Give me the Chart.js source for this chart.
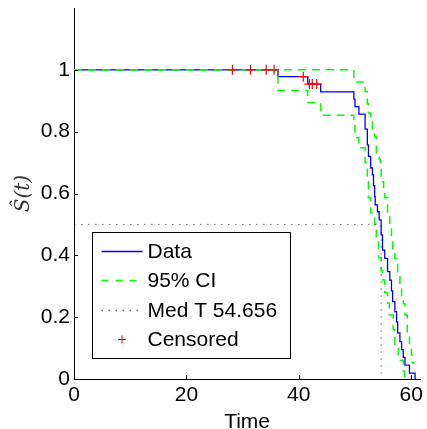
<!DOCTYPE html>
<html>
<head>
<meta charset="utf-8">
<script src="https://cdn.jsdelivr.net/npm/chart.js@4"></script>
<style>
  body { margin: 0; background: #fff; }
  #wrap { width: 427px; height: 429px; }
</style>
</head>
<body>
<div id="wrap"><canvas id="km" width="427" height="429"></canvas></div>
<script>
// Kaplan-Meier estimate (step points: time, survival after that time)
const survTime = [0, 36.3, 41.6, 43.9, 49.8, 50.0, 50.7, 51.8, 52.2, 52.4, 52.8, 53.1, 53.3, 53.5, 53.6, 54.0, 54.3, 54.656, 54.9, 55.3, 55.8, 56.2, 56.5, 56.7, 57.1, 57.4, 57.6, 58.0, 58.3, 58.6, 58.9, 59.7, 60.7];
const survProb = [1, 0.978, 0.954, 0.929, 0.905, 0.881, 0.857, 0.808, 0.757, 0.720, 0.683, 0.660, 0.625, 0.590, 0.563, 0.541, 0.515, 0.466, 0.417, 0.390, 0.347, 0.320, 0.285, 0.250, 0.218, 0.185, 0.149, 0.121, 0.095, 0.070, 0.045, 0.019, 0];

// 95% confidence bounds
const upperTime = [0, 49.8, 51.8, 52.2, 52.4, 52.8, 53.1, 53.5, 53.8, 54.3, 54.5, 54.656, 55.1, 55.3, 55.8, 56.2, 56.5, 56.7, 57.1, 57.4, 57.6, 58.0, 58.3, 58.6, 58.9, 59.3, 59.7, 60.05, 60.2, 60.7];
const upperProb = [1, 0.961, 0.93, 0.89, 0.86, 0.832, 0.81, 0.783, 0.731, 0.71, 0.686, 0.638, 0.61, 0.586, 0.54, 0.492, 0.455, 0.42, 0.39, 0.37, 0.346, 0.30, 0.26, 0.243, 0.207, 0.149, 0.11, 0.078, 0.052, 0.052];
const lowerTime = [0, 36.3, 41.6, 43.9, 49.8, 50.0, 50.7, 51.8, 52.2, 52.4, 52.8, 53.5, 53.8, 54.2, 54.656, 54.9, 55.3, 55.8, 56.1, 56.8, 57.1, 57.7, 58.6, 58.8];
const lowerProb = [1, 0.933, 0.894, 0.853, 0.822, 0.78, 0.748, 0.70, 0.638, 0.586, 0.537, 0.495, 0.443, 0.392, 0.35, 0.32, 0.28, 0.246, 0.207, 0.159, 0.104, 0.061, 0.026, 0];

// censored observations
const censTime = [28.2, 31.4, 34.2, 35.6, 40.8, 41.9, 42.4, 43.2];
const censProb = [1, 1, 1, 1, 0.978, 0.954, 0.954, 0.954];

const medianT = 54.656;
const xTicks = [0, 20, 40, 60];
const yTicks = [0, 0.2, 0.4, 0.6, 0.8, 1];
const xMax = 61.6;
const yMax = 1.2;

const FONT = 'Liberation Sans, Arial, Helvetica, sans-serif';

function pts(xs, ys) {
  return xs.map((v, i) => ({ x: v, y: ys[i] }));
}

// inward tick marks + boxed legend inside the axes
const extras = {
  id: 'extras',
  afterDatasetsDraw(chart) {
    const { ctx, chartArea: a, scales: { x, y } } = chart;
    ctx.save();
    ctx.strokeStyle = '#000';
    ctx.lineWidth = 1;
    ctx.beginPath();
    xTicks.forEach(v => {
      const px = Math.round(x.getPixelForValue(v)) + 0.5;
      ctx.moveTo(px, a.bottom);
      ctx.lineTo(px, a.bottom - 4);
    });
    yTicks.forEach(v => {
      const py = Math.round(y.getPixelForValue(v)) + 0.5;
      ctx.moveTo(a.left, py);
      ctx.lineTo(a.left + 4, py);
    });
    ctx.stroke();

    // legend
    const bx = a.left + 18.5, by = 232.5, bw = 198, bh = 126;
    ctx.fillStyle = '#fff';
    ctx.fillRect(bx, by, bw, bh);
    ctx.strokeStyle = '#000';
    ctx.strokeRect(bx, by, bw, bh);

    const items = [
      { text: 'Data', kind: 'line', color: '#0000ff', dash: [] },
      { text: '95% CI', kind: 'line', color: '#00ff00', dash: [7, 7] },
      { text: 'Med T ' + medianT, kind: 'line', color: 'rgba(0,0,0,0.55)', dash: [1.5, 5.5] },
      { text: 'Censored', kind: 'cross', color: '#ff0000' }
    ];
    const x0 = bx + 9, x1 = bx + 50, tx = bx + 55;
    ctx.font = '21px ' + FONT;
    ctx.textBaseline = 'middle';
    ctx.textAlign = 'left';
    items.forEach((it, i) => {
      const ry = 252 + i * 29.5;
      const ly = Math.round(ry - 1.5) + 0.5;
      ctx.strokeStyle = it.color;
      ctx.lineWidth = it.kind === 'cross' ? 1 : 1.3;
      if (it.kind === 'line') {
        ctx.setLineDash(it.dash);
        ctx.beginPath();
        ctx.moveTo(x0, ly);
        ctx.lineTo(x1, ly);
        ctx.stroke();
        ctx.setLineDash([]);
      } else {
        const cx = (x0 + x1) / 2;
        ctx.beginPath();
        ctx.moveTo(cx - 4, ly);
        ctx.lineTo(cx + 4, ly);
        ctx.moveTo(cx, ly - 4);
        ctx.lineTo(cx, ly + 4);
        ctx.stroke();
      }
      ctx.fillStyle = '#000';
      ctx.fillText(it.text, tx, ry);
    });
    ctx.restore();
  }
};

new Chart(document.getElementById('km'), {
  type: 'line',
  data: {
    datasets: [
      {
        label: 'Censored',
        data: pts(censTime, censProb),
        showLine: false,
        pointStyle: 'cross',
        pointRadius: 5,
        pointBorderWidth: 1.2,
        pointBorderColor: '#ff0000',
        order: 0
      },
      {
        label: 'Med T',
        data: [{ x: 0, y: 0.5 }, { x: medianT, y: 0.5 }, { x: medianT, y: 0 }],
        borderColor: 'rgba(0,0,0,0.55)',
        borderWidth: 1,
        borderDash: [1.5, 5.5],
        pointRadius: 0,
        order: 1
      },
      {
        label: '95% CI',
        data: pts(upperTime, upperProb),
        stepped: true,
        borderColor: '#00ff00',
        borderWidth: 1.5,
        borderDash: [8, 6],
        pointRadius: 0,
        order: 2
      },
      {
        label: '95% CI lower',
        data: pts(lowerTime, lowerProb),
        stepped: true,
        borderColor: '#00ff00',
        borderWidth: 1.5,
        borderDash: [8, 6],
        pointRadius: 0,
        order: 2
      },
      {
        label: 'Data',
        data: pts(survTime, survProb),
        stepped: true,
        borderColor: '#0000ff',
        borderWidth: 1.3,
        pointRadius: 0,
        order: 3
      }
    ]
  },
  options: {
    responsive: false,
    animation: false,
    layout: { padding: { top: 8, right: 5, left: 0, bottom: 0 } },
    plugins: {
      legend: { display: false },
      tooltip: { enabled: false }
    },
    scales: {
      x: {
        type: 'linear',
        min: 0,
        max: xMax,
        afterBuildTicks: s => { s.ticks = xTicks.map(v => ({ value: v })); },
        afterFit: s => { s.height = 50; },
        grid: { display: true, drawOnChartArea: false, drawTicks: false },
        border: { display: true, color: '#000', width: 1 },
        ticks: { color: '#000', padding: 4, font: { family: FONT, size: 21 }, maxRotation: 0 },
        title: {
          display: true,
          text: 'Time',
          color: '#000',
          font: { family: FONT, size: 21, lineHeight: 1 },
          padding: { top: 0, bottom: -4 }
        }
      },
      y: {
        type: 'linear',
        min: 0,
        max: yMax,
        afterBuildTicks: s => { s.ticks = yTicks.map(v => ({ value: v })); },
        afterFit: s => { s.width = 74; },
        grid: { display: true, drawOnChartArea: false, drawTicks: false },
        border: { display: true, color: '#000', width: 1 },
        ticks: {
          color: '#000',
          padding: 4,
          font: { family: FONT, size: 21, lineHeight: 0.38 },
          callback: v => String(Math.round(v * 10) / 10)
        },
        title: {
          display: true,
          text: 'Ŝ(t)',
          color: '#333',
          font: { family: 'DejaVu Serif, serif', size: 20, style: 'italic' },
          padding: { top: 12, bottom: 0 }
        }
      }
    }
  },
  plugins: [extras]
});
</script>
</body>
</html>
